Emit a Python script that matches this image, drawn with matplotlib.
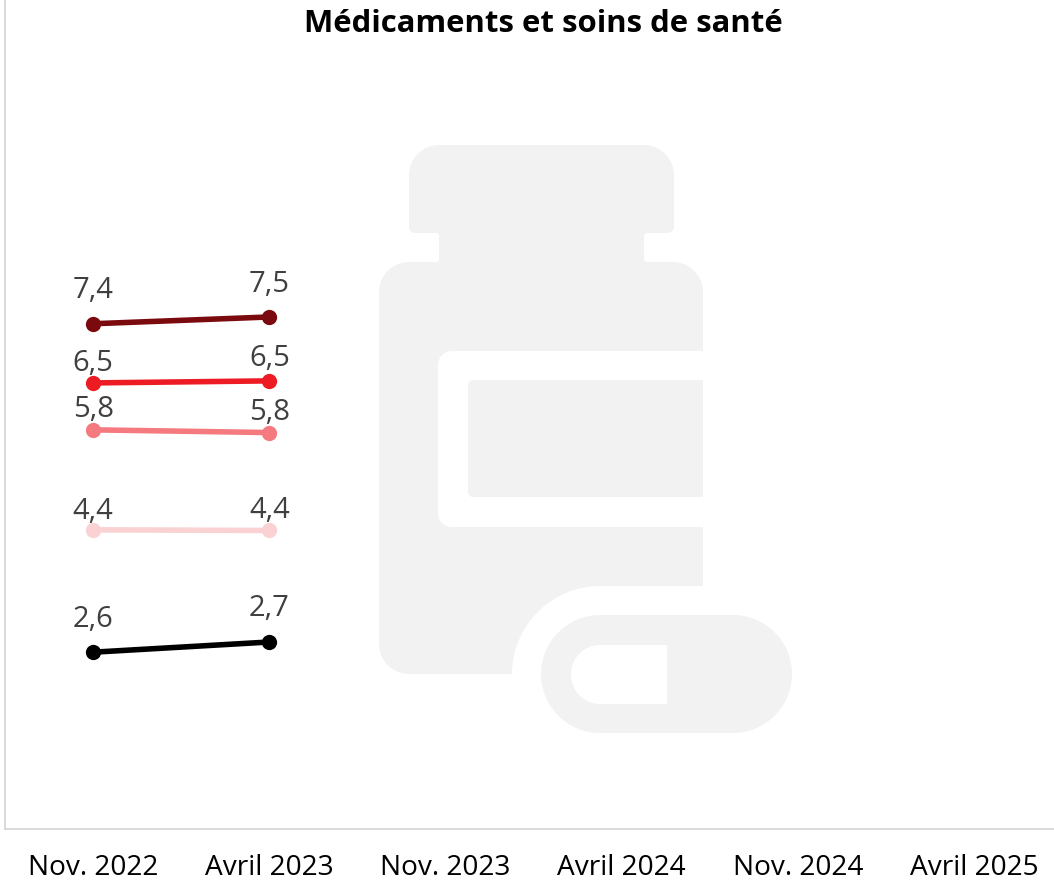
# coding=utf-8
import matplotlib
matplotlib.use('Agg')
import numpy as np
from matplotlib import pyplot as plt
from matplotlib.path import Path
from matplotlib.patches import PathPatch

W, H = 1054, 882

periodes = ['Nov. 2022', 'Avril 2023', 'Nov. 2023', 'Avril 2024', 'Nov. 2024', 'Avril 2025']

serie_a = [7.43, 7.53]
serie_b = [6.56, 6.59]
serie_c = [5.87, 5.83]
serie_d = [4.40, 4.39]
serie_e = [2.60, 2.75]

etiquettes_a = ['7,4', '7,5']
etiquettes_b = ['6,5', '6,5']
etiquettes_c = ['5,8', '5,8']
etiquettes_d = ['4,4', '4,4']
etiquettes_e = ['2,6', '2,7']

plt.rcParams['font.family'] = ['Open Sans', 'DejaVu Sans']


def rounded_poly(points):
    # points: (x, y, radius), corners rounded with bezier curves
    verts, codes = [], []
    n = len(points)
    for i in range(n):
        p = np.array(points[i][:2], dtype=float)
        r = points[i][2]
        prev = np.array(points[i - 1][:2], dtype=float)
        nxt = np.array(points[(i + 1) % n][:2], dtype=float)
        u1 = (prev - p) / np.linalg.norm(prev - p)
        u2 = (nxt - p) / np.linalg.norm(nxt - p)
        a = p + u1 * r
        b = p + u2 * r
        verts.append(a)
        codes.append(Path.MOVETO if i == 0 else Path.LINETO)
        if r > 0:
            verts += [a - u1 * r * 0.55, b - u2 * r * 0.55, b]
            codes += [Path.CURVE4] * 3
    verts.append(verts[0])
    codes.append(Path.CLOSEPOLY)
    return Path(verts, codes)


fig = plt.figure(figsize=(W / 100, H / 100), dpi=100, facecolor='white')

# fond : icone en pixels de la figure
bg = fig.add_axes([0, 0, 1, 1], zorder=0)
bg.set_xlim(0, W)
bg.set_ylim(H, 0)
bg.axis('off')

gris = '#F2F2F2'
flacon = [(409, 145, 30), (674, 145, 30), (674, 233, 6), (644, 233, 3), (644, 262, 3),
          (703, 262, 30), (703, 586, 0), (512, 586, 88), (512, 674, 0), (379, 674, 30),
          (379, 262, 30), (439, 262, 3), (439, 233, 3), (409, 233, 6)]
etiquette_ext = [(703, 351, 0), (703, 527, 0), (438, 527, 14), (438, 351, 14)]
etiquette_int = [(703, 380, 0), (703, 497, 0), (468, 497, 5), (468, 380, 5)]
gelule = [(541, 615, 59), (792, 615, 59), (792, 733, 59), (541, 733, 59)]
gelule_trou = [(571, 645, 29), (667, 645, 0), (667, 704, 0), (571, 704, 29)]
for pts, col in [(flacon, gris), (etiquette_ext, 'white'), (etiquette_int, gris),
                 (gelule, gris), (gelule_trou, 'white')]:
    bg.add_patch(PathPatch(rounded_poly(pts), facecolor=col, edgecolor='none'))

ax = fig.add_axes([5 / W, (H - 829) / H, (W - 5) / W, 829 / H], zorder=1)
ax.patch.set_alpha(0)
ax.set_xlim(-0.5, 5.453)
ax.set_ylim(0, 829 / 68)

series = [(serie_a, etiquettes_a, '#7B0A0F', (26.3, 25.7)),
          (serie_b, etiquettes_b, '#ED1C24', (16.3, 18.7)),
          (serie_c, etiquettes_c, '#F47A7F', (17.3, 16.7)),
          (serie_d, etiquettes_d, '#FAD2D3', (16, 17)),
          (serie_e, etiquettes_e, '#000000', (26.3, 26.7))]
x = np.arange(2)
for vals, labs, col, dy in series:
    ax.plot(x, vals, color=col, lw=4, marker='o', ms=11, mew=0)
    for i in x:
        ax.annotate(labs[i], (x[i], vals[i]), xytext=(0, dy[i]), textcoords='offset points',
                    ha='center', va='center_baseline', fontsize=21, color='#404040')

ax.set_xticks(np.arange(len(periodes)))
ax.set_xticklabels(periodes, fontsize=20.2, color='black')
ax.tick_params(axis='x', length=0, pad=18)
ax.set_yticks([])
for s in ['top', 'right']:
    ax.spines[s].set_visible(False)
for s in ['left', 'bottom']:
    ax.spines[s].set_color('#D9D9D9')
    ax.spines[s].set_linewidth(1.4)

fig.text(543 / W, 1 - 24 / H, 'Médicaments et soins de santé', ha='center', va='center',
         fontsize=22.4, fontweight='bold', color='black')

plt.savefig('out.png', dpi=100)
